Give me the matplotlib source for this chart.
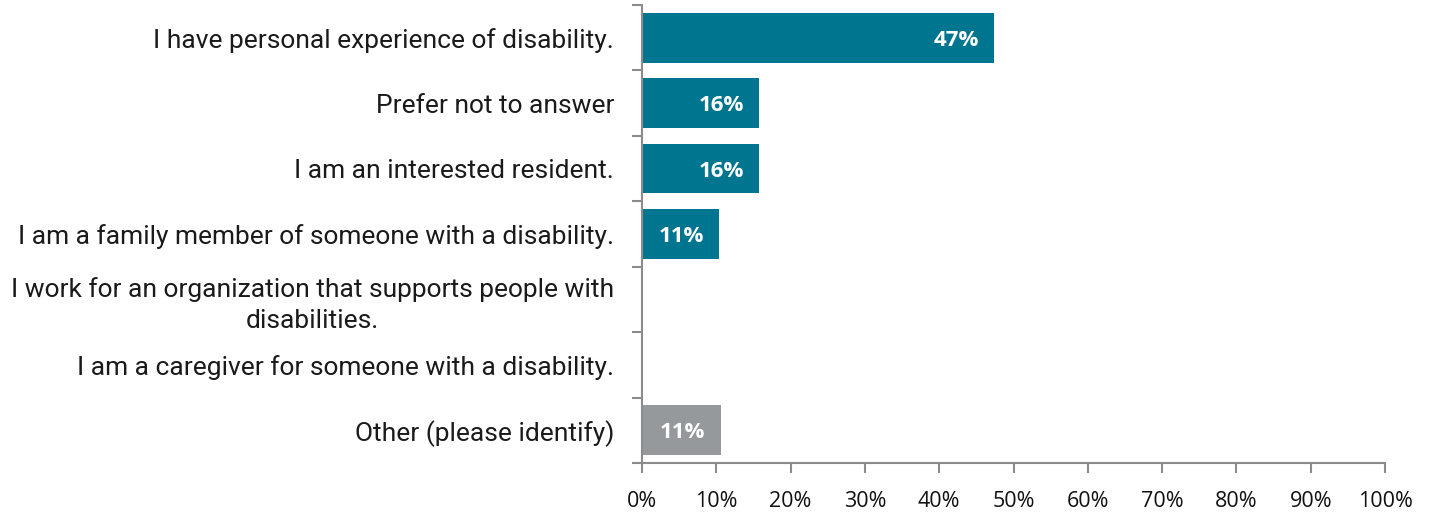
import matplotlib
matplotlib.use("Agg")
import matplotlib.pyplot as plt
from matplotlib.ticker import FuncFormatter

categories = [
    "I have personal experience of disability.",
    "Prefer not to answer",
    "I am an interested resident.",
    "I am a family member of someone with a disability.",
    "I work for an organization that supports people with\ndisabilities.",
    "I am a caregiver for someone with a disability.",
    "Other (please identify)",
]
values = [47.4, 15.8, 15.8, 10.4, 0, 0, 10.6]
labels = ["47%", "16%", "16%", "11%", "", "", "11%"]
teal = "#00758F"
grey = "#95999B"
colors = [teal, teal, teal, teal, teal, teal, grey]
xticks = list(range(0, 101, 10))

fig = plt.figure(figsize=(14.34, 5.12), dpi=100)
ax = fig.add_axes([642/1434, 1-463/512, (1385-642)/1434, (463-5)/512])

y = list(range(len(categories)))
bars = ax.barh(y, values, height=0.76, color=colors)
ax.set_ylim(len(categories)-0.5, -0.5)
ax.set_xlim(0, 100)
ax.set_xticks(xticks)
ax.xaxis.set_major_formatter(FuncFormatter(lambda v, p: f"{int(v)}%"))

ax.set_yticks([i - 0.5 for i in range(len(categories)+1)])
ax.set_yticklabels([])
ax.set_yticks(y, minor=True)
ax.set_yticklabels(categories, minor=True, fontsize=19, family="Roboto",
                   color="#1a1a1a", multialignment="center", linespacing=1.35)
ax.tick_params(axis="y", which="minor", length=0, pad=20)
ax.tick_params(axis="y", which="major", length=7, color="#8C8C8C", width=1.5, direction="out")
ax.tick_params(axis="x", length=7, color="#8C8C8C", width=1.5, direction="out", pad=13)
for t in ax.get_xticklabels():
    t.set_fontfamily("Open Sans")
    t.set_fontsize(15.5)
    t.set_color("#111111")

for s in ["top", "right"]:
    ax.spines[s].set_visible(False)
for s in ["left", "bottom"]:
    ax.spines[s].set_color("#8C8C8C")
    ax.spines[s].set_linewidth(1.5)

for yi, v, lab in zip(y, values, labels):
    if lab:
        ax.annotate(lab, xy=(v, yi), xytext=(-11, 0), textcoords="offset points",
                    ha="right", va="center_baseline", color="white", fontsize=16,
                    fontweight="bold", family="Open Sans")

fig.savefig("out.png", dpi=100)
